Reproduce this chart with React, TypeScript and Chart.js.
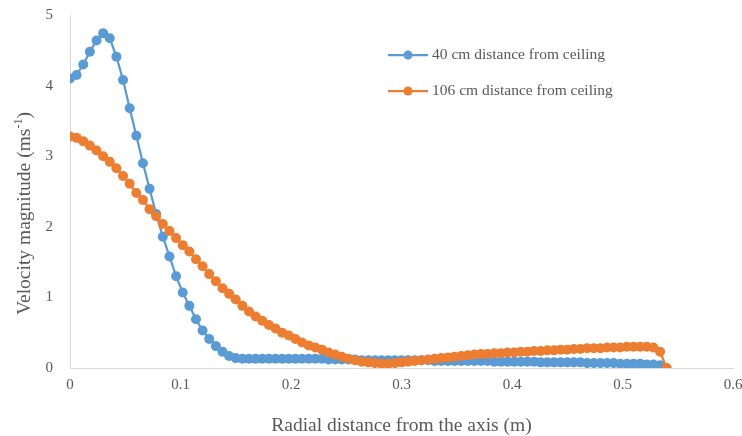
import { useEffect, useRef } from "react";
import { Chart, registerables } from "chart.js";

Chart.register(...registerables);

// Radial distance from the axis (m)
const radialDistance = [
  0, 0.006, 0.012, 0.018, 0.024, 0.03, 0.036, 0.042, 0.048, 0.054,
  0.06, 0.066, 0.072, 0.078, 0.084, 0.09, 0.096, 0.102, 0.108, 0.114,
  0.12, 0.126, 0.132, 0.138, 0.144, 0.15, 0.156, 0.162, 0.168, 0.174,
  0.18, 0.186, 0.192, 0.198, 0.204, 0.21, 0.216, 0.222, 0.228, 0.234,
  0.24, 0.246, 0.252, 0.258, 0.264, 0.27, 0.276, 0.282, 0.288, 0.294,
  0.3, 0.306, 0.312, 0.318, 0.324, 0.33, 0.336, 0.342, 0.348, 0.354,
  0.36, 0.366, 0.372, 0.378, 0.384, 0.39, 0.396, 0.402, 0.408, 0.414,
  0.42, 0.426, 0.432, 0.438, 0.444, 0.45, 0.456, 0.462, 0.468, 0.474,
  0.48, 0.486, 0.492, 0.498, 0.504, 0.51, 0.516, 0.522, 0.528, 0.534,
  0.54,
];

// 40 cm distance from ceiling (velocity, m/s)
const velocity40cm = [
  4.10, 4.15, 4.30, 4.48, 4.64, 4.74, 4.67, 4.41, 4.08, 3.68,
  3.29, 2.90, 2.54, 2.18, 1.86, 1.58, 1.30, 1.07, 0.88, 0.69,
  0.53, 0.41, 0.31, 0.23, 0.17, 0.14, 0.13, 0.13, 0.13, 0.13,
  0.13, 0.13, 0.13, 0.13, 0.13, 0.13, 0.13, 0.13, 0.13, 0.12,
  0.12, 0.12, 0.12, 0.12, 0.11, 0.11, 0.11, 0.11, 0.11, 0.11,
  0.11, 0.11, 0.11, 0.11, 0.11, 0.10, 0.10, 0.10, 0.10, 0.10,
  0.10, 0.10, 0.10, 0.10, 0.09, 0.09, 0.09, 0.09, 0.09, 0.09,
  0.09, 0.08, 0.08, 0.08, 0.08, 0.08, 0.08, 0.08, 0.07, 0.07,
  0.07, 0.07, 0.07, 0.06, 0.06, 0.06, 0.06, 0.05, 0.05, 0.04,
];

// 106 cm distance from ceiling (velocity, m/s)
const velocity106cm = [
  3.28, 3.26, 3.21, 3.15, 3.08, 3.00, 2.92, 2.83, 2.72, 2.61,
  2.48, 2.38, 2.25, 2.15, 2.04, 1.94, 1.84, 1.74, 1.65, 1.54,
  1.44, 1.33, 1.23, 1.13, 1.05, 0.97, 0.88, 0.80, 0.73, 0.67,
  0.61, 0.56, 0.50, 0.46, 0.41, 0.36, 0.32, 0.29, 0.26, 0.22,
  0.19, 0.16, 0.13, 0.11, 0.09, 0.08, 0.07, 0.06, 0.06, 0.07,
  0.08, 0.09, 0.10, 0.11, 0.12, 0.13, 0.14, 0.15, 0.16, 0.17,
  0.18, 0.19, 0.20, 0.20, 0.21, 0.21, 0.22, 0.22, 0.23, 0.23,
  0.24, 0.24, 0.25, 0.25, 0.26, 0.26, 0.27, 0.27, 0.28, 0.28,
  0.28, 0.29, 0.29, 0.29, 0.30, 0.30, 0.30, 0.30, 0.29, 0.23,
  0.00,
];

const seriesNames = ["40 cm distance from ceiling", "106 cm distance from ceiling"];
const seriesColors = ["#5B9BD5", "#ED7D31"];
const xTickLabels = ["0", "0.1", "0.2", "0.3", "0.4", "0.5", "0.6"];
const yTickLabels = ["0", "1", "2", "3", "4", "5"];
const xTitle = "Radial distance from the axis (m)";
const yTitleMain = "Velocity magnitude (ms";
const yTitleSup = "-1";
const yTitleEnd = ")";

const FONT = "'Liberation Serif', 'Times New Roman', serif";
const TEXT = "#595959";
const TITLE_SIZE = 19.5;
const TICK_SIZE = 15;
const LEGEND_SIZE = 15.5;

const decorPlugin = {
  id: "decor",
  afterDraw(chart: any) {
    const { ctx, chartArea } = chart;
    ctx.save();
    // Y axis title with superscript
    const cx = 25;
    const cy = (chartArea.top + chartArea.bottom) / 2 + 22;
    ctx.translate(cx, cy);
    ctx.rotate(-Math.PI / 2);
    ctx.fillStyle = TEXT;
    ctx.textBaseline = "middle";
    ctx.textAlign = "left";
    const supSize = Math.round(TITLE_SIZE * 0.62);
    ctx.font = `${TITLE_SIZE}px ${FONT}`;
    const w1 = ctx.measureText(yTitleMain).width;
    const w3 = ctx.measureText(yTitleEnd).width;
    ctx.font = `${supSize}px ${FONT}`;
    const w2 = ctx.measureText(yTitleSup).width;
    let x = -(w1 + w2 + w3) / 2;
    ctx.font = `${TITLE_SIZE}px ${FONT}`;
    ctx.fillText(yTitleMain, x, 0);
    x += w1;
    ctx.font = `${supSize}px ${FONT}`;
    ctx.fillText(yTitleSup, x, -6);
    x += w2;
    ctx.font = `${TITLE_SIZE}px ${FONT}`;
    ctx.fillText(yTitleEnd, x, 0);
    ctx.restore();

    // Legend
    ctx.save();
    const lx = chartArea.left + 318;
    const ly = chartArea.top + 40;
    seriesNames.forEach((name, i) => {
      const y = ly + i * 36;
      ctx.strokeStyle = seriesColors[i];
      ctx.lineWidth = 2.25;
      ctx.beginPath();
      ctx.moveTo(lx, y);
      ctx.lineTo(lx + 40, y);
      ctx.stroke();
      ctx.fillStyle = seriesColors[i];
      ctx.beginPath();
      ctx.arc(lx + 20, y, 4.5, 0, Math.PI * 2);
      ctx.fill();
      ctx.fillStyle = TEXT;
      ctx.font = `${LEGEND_SIZE}px ${FONT}`;
      ctx.textAlign = "left";
      ctx.textBaseline = "middle";
      ctx.fillText(name, lx + 44, y);
    });
    ctx.restore();
  },
};

export default function App() {
  const canvasRef = useRef<HTMLCanvasElement | null>(null);

  useEffect(() => {
    document.body.style.margin = "0";
    const canvas = canvasRef.current;
    if (!canvas) return;
    const toPoints = (vals: number[]) =>
      vals.map((v, i) => ({ x: radialDistance[i], y: v }));

    const chart = new Chart(canvas, {
      type: "line",
      data: {
        datasets: [
          {
            label: seriesNames[0],
            data: toPoints(velocity40cm),
            borderColor: seriesColors[0],
            backgroundColor: seriesColors[0],
            borderWidth: 2.25,
            pointRadius: 5,
            pointBorderWidth: 0,
            pointBackgroundColor: seriesColors[0],
            order: 1,
            tension: 0,
          },
          {
            label: seriesNames[1],
            data: toPoints(velocity106cm),
            borderColor: seriesColors[1],
            backgroundColor: seriesColors[1],
            borderWidth: 2.25,
            pointRadius: 5,
            pointBorderWidth: 0,
            pointBackgroundColor: seriesColors[1],
            order: 0,
            tension: 0,
          },
        ],
      },
      options: {
        responsive: false,
        animation: false,
        layout: { padding: { top: 15, right: 9, left: 0, bottom: 0 } },
        plugins: {
          legend: { display: false },
          tooltip: { enabled: false },
          title: { display: false },
        },
        scales: {
          x: {
            type: "linear",
            min: 0,
            max: 0.6,
            grid: { display: false, drawTicks: false },
            border: { display: true, color: "#D9D9D9", width: 1 },
            ticks: {
              stepSize: 0.1,
              padding: 8,
              color: TEXT,
              font: { family: FONT, size: TICK_SIZE },
              maxRotation: 0,
              autoSkip: false,
              callback: (_v: any, i: number) => xTickLabels[i],
            },
            title: {
              display: true,
              text: xTitle,
              color: TEXT,
              font: { family: FONT, size: TITLE_SIZE, lineHeight: 1.0 },
              padding: { top: 0, bottom: 0 },
            },
            afterFit: (scale: any) => {
              scale.height = 68;
              scale.paddingLeft = 0;
              scale.paddingRight = 0;
            },
          },
          y: {
            type: "linear",
            min: 0,
            max: 5,
            grid: { display: false, drawTicks: false },
            border: { display: true, color: "#D9D9D9", width: 1 },
            ticks: {
              stepSize: 1,
              padding: 17,
              color: TEXT,
              font: { family: FONT, size: TICK_SIZE },
              callback: (_v: any, i: number) => yTickLabels[i],
            },
            afterFit: (scale: any) => {
              scale.width = 70;
              scale.paddingTop = 0;
              scale.paddingBottom = 0;
            },
          },
        },
      },
      plugins: [decorPlugin],
    });
    return () => chart.destroy();
  }, []);

  return (
    <div style={{ width: 742, height: 436 }}>
      <canvas ref={canvasRef} width={742} height={436} style={{ display: "block" }} />
    </div>
  );
}
